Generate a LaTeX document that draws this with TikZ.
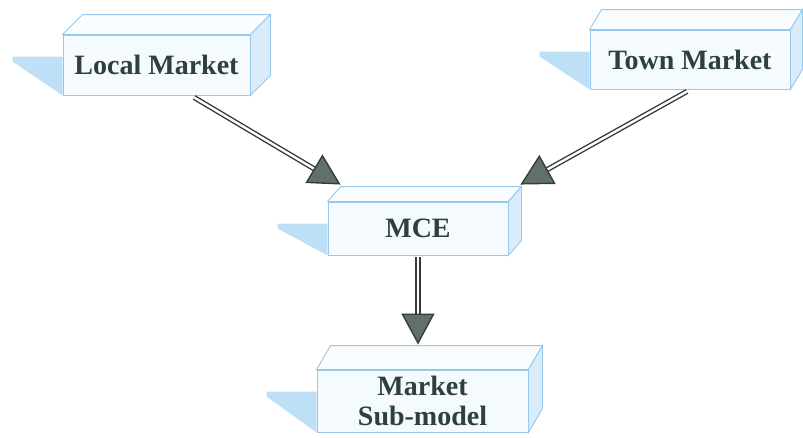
\documentclass[tikz,border=0pt]{standalone}
\usepackage{fontspec}
\setmainfont{Liberation Serif}
\usetikzlibrary{arrows.meta,calc}
\definecolor{edge}{RGB}{150,200,236}
\definecolor{facefill}{RGB}{244,250,254}
\definecolor{topfill}{RGB}{250,253,255}
\definecolor{sidefill}{RGB}{218,236,249}
\definecolor{shadowblue}{RGB}{190,224,246}
\definecolor{ink}{RGB}{46,64,60}
\definecolor{linegray}{RGB}{52,60,58}
\definecolor{headgray}{RGB}{98,112,106}

% front face, depth faces and shadow of one block
\newcommand{\solid}[3]{%
\fill[shadowblue] ($(#1.north west)+(0,22)$) -- ++(-50,0) -- ++(0,5) -- (#1.south west) -- cycle;
\draw[edge, line width=0.9pt, fill=topfill] (#1.north west) -- ++(#2,-#3)
  -- ($(#1.north east)+(#2,-#3)$) -- (#1.north east) -- cycle;
\draw[edge, line width=0.9pt, fill=sidefill] (#1.north east) -- ++(#2,-#3)
  -- ($(#1.south east)+(#2,-#3)$) -- (#1.south east) -- cycle;
}

\begin{document}
\begin{tikzpicture}[x=1pt, y=-1pt,
  front/.style={draw=edge, line width=0.9pt, fill=facefill, text=ink,
    font=\fontsize{28}{30}\selectfont\bfseries, align=center, inner sep=0pt},
  link/.style={draw=linegray, line width=1.4pt, double=white, double distance=2.4pt,
    -{Triangle[length=31pt, width=33pt, fill=headgray]}}]
\useasboundingbox (0,0) rectangle (803,437);
\node[front, minimum width=187pt, minimum height=60pt] (local) at (156.5,65) {Local Market};
\node[front, minimum width=200pt, minimum height=59pt] (town) at (690,59.5) {Town Market};
\node[front, minimum width=180pt, minimum height=53pt] (mce) at (418,228.5) {MCE};
\node[front, minimum width=211pt, minimum height=62pt] (sub) at (422.5,401) {Market\\Sub-model};
\solid{local}{20}{20}
\solid{town}{12}{20}
\solid{mce}{13}{15}
\solid{sub}{14}{24}
\draw[link] ($(local.south west)!0.7!(local.south east)+(0,2)$) -- ($(mce.north west)+(13,-17)$);
\draw[link] ($(town.south)+(-3,2)$) -- ($(mce.north east)+(12,-17)$);
\draw[link] ($(mce.south)+(0,2)$) -- ($(sub.north)+(-4.5,-25)$);
\end{tikzpicture}
\end{document}
